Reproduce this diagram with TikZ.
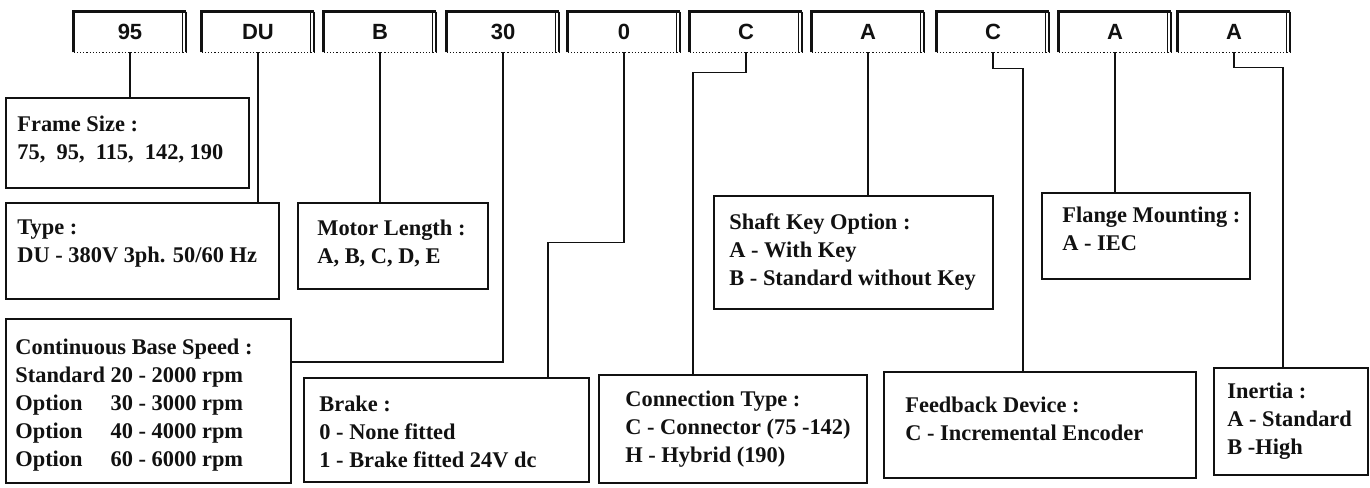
\documentclass[tikz,border=0pt]{standalone}
\usepackage{fontspec}
\setmainfont{Liberation Serif}
\newfontfamily\codefont{Liberation Sans}
\usepackage{tikz}
\usetikzlibrary{positioning, calc}
\definecolor{ink}{HTML}{111111}
\tikzset{
  codebox/.style={minimum width=56pt, minimum height=20pt, inner sep=0pt,
                  font=\codefont\bfseries\fontsize{11}{13}\selectfont, text=ink},
  infobox/.style={draw=ink, line width=1pt, inner sep=0pt, anchor=north west},
  infotext/.style={align=left, inner sep=0pt, text=ink,
                   font=\bfseries\fontsize{11.2}{14}\selectfont},
  wire/.style={draw=ink, line width=0.8pt},
}

\begin{document}
\begin{tikzpicture}[x=0.5pt, y=-0.5pt]
  \useasboundingbox (0,0) rectangle (1370,487);

  % order code fields
  \node[codebox] (f1) at (130,32) {95};
  \node[codebox] (f2) at (258,32) {DU};
  \node[codebox] (f3) at (380,32) {B};
  \node[codebox] (f4) at (503,32) {30};
  \node[codebox] (f5) at (624,32) {0};
  \node[codebox] (f6) at (746,32) {C};
  \node[codebox] (f7) at (868,32) {A};
  \node[codebox] (f8) at (993,32) {C};
  \node[codebox] (f9) at (1115,32) {A};
  \node[codebox] (f10) at (1234,32) {A};
  \foreach \n in {f1,f2,f3,f4,f5,f6,f7,f8,f9,f10}
  {
    \draw[ink, line width=1.6pt] (\n.south west) -- (\n.north west) -- (\n.north east);
    \draw[ink, line width=1pt] (\n.north east) -- (\n.south east);
    \draw[ink, line width=0.4pt] ([xshift=-2pt]\n.north east) -- ([xshift=-2pt]\n.south east);
    \draw[ink, line width=0.6pt, densely dotted] (\n.south west) -- (\n.south east);
  }

  % option boxes
  \node[infobox, minimum width=121.5pt, minimum height=45pt] (frame) at (5,97) {};
  \node[infotext, right=6pt of frame.west, yshift=2pt] (frametxt)
    {Frame Size :\\75,\ \ 95,\ \ 115,\ \ 142, 190};
  \node[infobox, minimum width=136.5pt, minimum height=48pt] (type) at (5,202) {};
  \node[infotext, right=6pt of type.west, yshift=3.5pt] (typetxt)
    {Type :\\DU - 380V 3ph. 50/60 Hz};
  \node[infobox, minimum width=95pt, minimum height=43pt] (motor) at (297,202) {};
  \node[infotext, right=10pt of motor.west, yshift=1.5pt] (motortxt)
    {Motor Length :\\A, B, C, D, E};
  \node[infobox, minimum width=142.5pt, minimum height=82pt] (speed) at (5,318) {};
  \node[infotext, right=5pt of speed.west, yshift=-2pt] (speedtxt)
    {Continuous Base Speed :\\
     Standard 20 - 2000 rpm\\
     \rlap{Option}\phantom{Standard} 30 - 3000 rpm\\
     \rlap{Option}\phantom{Standard} 40 - 4000 rpm\\
     \rlap{Option}\phantom{Standard} 60 - 6000 rpm};
  \node[infobox, minimum width=142.5pt, minimum height=52pt] (brake) at (303,377) {};
  \node[infotext, right=8pt of brake.west, yshift=-1pt] (braketxt)
    {Brake :\\0 - None fitted\\1 - Brake fitted 24V dc};
  \node[infobox, minimum width=139.5pt, minimum height=56.5pt] (shaft) at (713,195) {};
  \node[infotext, right=8pt of shaft.west] (shafttxt)
    {Shaft Key Option :\\A - With Key\\B - Standard without Key};
  \node[infobox, minimum width=104pt, minimum height=43pt] (flange) at (1041,192) {};
  \node[infotext, right=10.5pt of flange.west, yshift=3.5pt] (flangetxt)
    {Flange Mounting :\\A - IEC};
  \node[infobox, minimum width=134pt, minimum height=54pt] (conn) at (598,374) {};
  \node[infotext, right=13.5pt of conn.west] (conntxt)
    {Connection Type :\\C - Connector (75 -142)\\H - Hybrid (190)};
  \node[infobox, minimum width=156pt, minimum height=53pt] (feed) at (883,371) {};
  \node[infotext, right=11pt of feed.west, yshift=3pt] (feedtxt)
    {Feedback Device :\\C - Incremental Encoder};
  \node[infobox, minimum width=77pt, minimum height=53.5pt] (inertia) at (1213,367) {};
  \node[infotext, right=7pt of inertia.west] (inertiatxt)
    {Inertia :\\A - Standard\\B -High};

  % leaders
  \foreach \a/\b in {f1/frame, f2/type, f3/motor, f7/shaft, f9/flange}
    \draw[wire] (\a.south) -- (\a.south |- \b.north);
  \draw[wire] (f4.south) |- ($(speed.north east)+(0,44)$);
  \draw[wire] (f5.south) -- ++(0,190) -| ($(brake.north west)+(245,0)$);
  \draw[wire] (f6.south) -- ++(0,20) -| ($(conn.north west)+(95,0)$);
  \draw[wire] (f8.south) -- ++(0,16) -| ($(feed.north west)+(140,0)$);
  \draw[wire] (f10.south) -- ++(0,15) -| ($(inertia.north west)+(70,0)$);
\end{tikzpicture}
\end{document}
